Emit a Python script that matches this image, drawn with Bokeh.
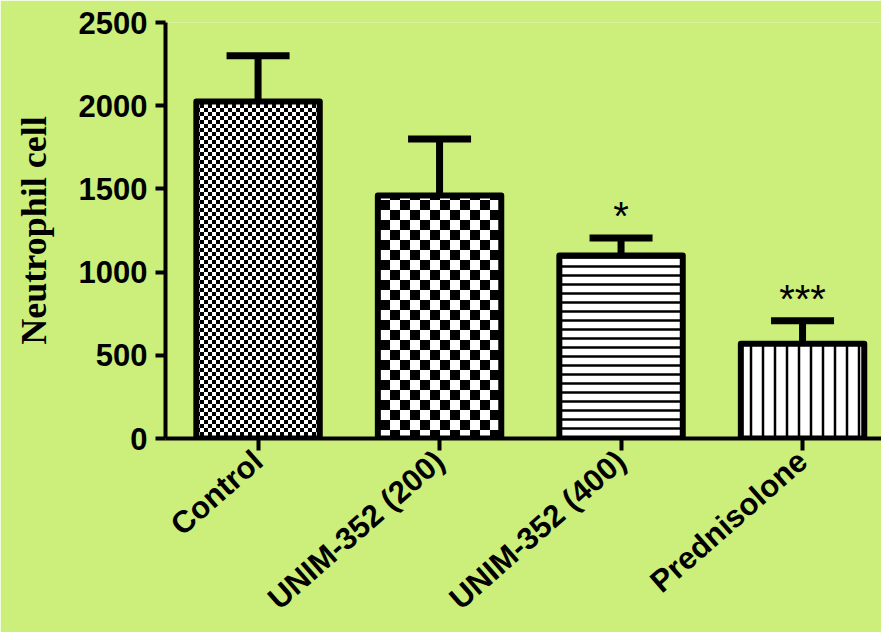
import math
from bokeh.plotting import figure
from bokeh.models import ColumnDataSource, Range1d, FixedTicker, Whisker, TeeHead, CanvasTexture
from bokeh.embed import file_html
from bokeh.resources import INLINE
from bokeh.core.properties import value

# ---- data ----
categories = ["Control", "UNIM-352 (200)", "UNIM-352 (400)", "Prednisolone"]
means = [2025, 1460, 1100, 570]
sems = [275, 340, 105, 137]
significance = ["", "", "*", "***"]
y_ticks = [0, 500, 1000, 1500, 2000, 2500]

# ---- styles ----
patterns = ["checker_small", "checker_big", "horizontal_line", "vertical_line"]
hatch_scales = [8, 20, 9, 12]
hatch_weights = [1, 1, 2.5, 2.5]
BG = "#CBEF7A"


def checker_texture(size):
    return CanvasTexture(code="""
const s = %d;
const c = ctx.canvas;
c.width = s;
c.height = s;
ctx.fillStyle = "#ffffff";
ctx.fillRect(0, 0, s, s);
ctx.fillStyle = "#000000";
ctx.fillRect(0, 0, s / 2, s / 2);
ctx.fillRect(s / 2, s / 2, s / 2, s / 2);
""" % size)


x_pos = list(range(len(categories)))
uppers = [m + s for m, s in zip(means, sems)]
src = ColumnDataSource(dict(x=x_pos, mean=means, upper=uppers,
                            pat=patterns, hs=hatch_scales, hw=hatch_weights,
                            sig=significance))

p = figure(x_range=Range1d(-0.51, 3.435), y_range=Range1d(0, 2500),
           width=881, height=632, output_backend="svg", toolbar_location=None,
           min_border_left=165, min_border_right=0, min_border_top=22, min_border_bottom=194)

p.background_fill_color = BG
p.border_fill_color = BG
p.outline_line_color = None
p.grid.visible = False

whisk = Whisker(base="x", lower="mean", upper="upper", source=src,
                line_width=7, line_color="black",
                upper_head=TeeHead(size=63, line_width=7, line_color="black"),
                lower_head=None, level="underlay")
p.add_layout(whisk)

p.vbar(x="x", top="mean", bottom=0, width=0.68, source=src,
       fill_color="white", line_color="black", line_width=6, line_join="round",
       hatch_pattern="pat", hatch_scale="hs", hatch_weight="hw", hatch_color="black",
       hatch_extra={"checker_small": checker_texture(8), "checker_big": checker_texture(20)})

p.text(x="x", y="upper", text="sig", source=src, text_align="center",
       text_baseline="alphabetic", y_offset=-22, text_font_size="40px",
       text_font=value("Liberation Sans"), text_color="black")

for ax in (p.xaxis[0], p.yaxis[0]):
    ax.axis_line_width = 4
    ax.axis_line_color = "black"
    ax.major_tick_line_width = 4
    ax.major_tick_line_color = "black"
    ax.major_tick_in = 0
    ax.minor_tick_line_color = None
    ax.major_label_text_font = "Liberation Sans"
    ax.major_label_text_font_style = "bold"
    ax.major_label_text_color = "black"

p.yaxis.ticker = FixedTicker(ticks=y_ticks)
p.yaxis.major_tick_out = 10
p.yaxis.major_label_text_font_size = "31px"
p.yaxis.major_label_standoff = 8
p.yaxis.axis_label = "Neutrophil cell"
p.yaxis.axis_label_text_font = "Liberation Serif"
p.yaxis.axis_label_text_font_style = "bold"
p.yaxis.axis_label_text_font_size = "36px"
p.yaxis.axis_label_text_color = "black"
p.yaxis.axis_label_standoff = 22

p.xaxis.ticker = FixedTicker(ticks=x_pos)
p.xaxis.major_label_overrides = {i: c for i, c in zip(x_pos, categories)}
p.xaxis.major_tick_out = 12
p.xaxis.major_label_orientation = 0.72
p.xaxis.major_label_text_font_size = "31px"
p.xaxis.major_label_standoff = 6

open("out.html", "w").write(file_html(p, INLINE))
